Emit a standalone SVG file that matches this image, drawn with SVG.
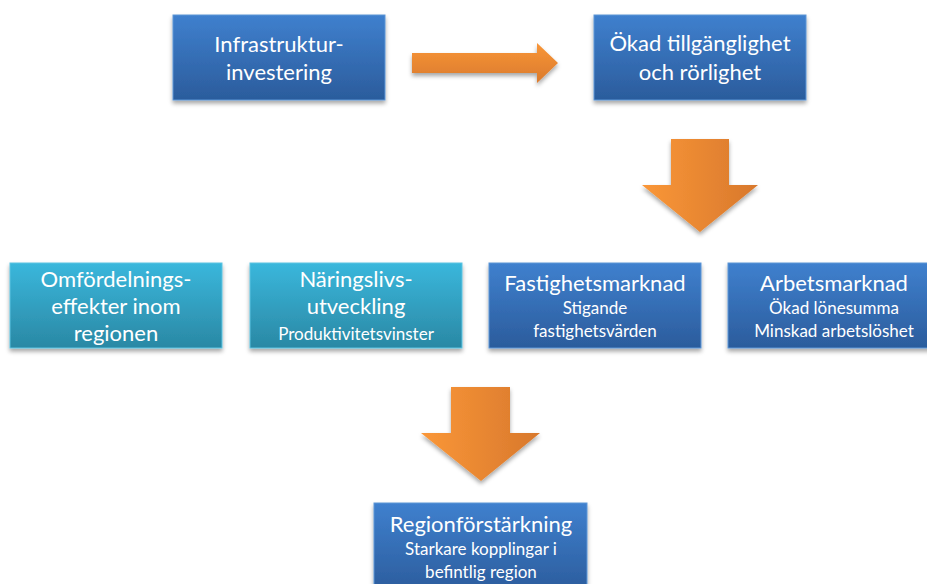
<svg xmlns="http://www.w3.org/2000/svg" width="927" height="584" viewBox="0 0 927 584">
<defs>
<linearGradient id="gBlue" x1="0" y1="0" x2="0" y2="1">
<stop offset="0" stop-color="#3F80CE"/>
<stop offset="1" stop-color="#2B5C9C"/>
</linearGradient>
<linearGradient id="gTeal" x1="0" y1="0" x2="0" y2="1">
<stop offset="0" stop-color="#3AB7DC"/>
<stop offset="1" stop-color="#2A88A4"/>
</linearGradient>
<linearGradient id="gOrangeH" x1="0" y1="0" x2="1" y2="0">
<stop offset="0" stop-color="#FA9738"/>
<stop offset="1" stop-color="#D8782C"/>
</linearGradient>
<linearGradient id="gOrangeV" x1="0" y1="0" x2="0" y2="1">
<stop offset="0" stop-color="#F99638"/>
<stop offset="1" stop-color="#DA7A2C"/>
</linearGradient>
<filter id="sh" x="-10%" y="-10%" width="120%" height="130%">
<feDropShadow dx="0" dy="3" stdDeviation="2" flood-color="#000" flood-opacity="0.35"/>
</filter>
</defs>
<style>
.bx{stroke:#5C96D6;stroke-width:1;filter:url(#sh)}
.tl{stroke:#5CC4E2;stroke-width:1;filter:url(#sh)}
text{font-family:Lato,"Open Sans",sans-serif;fill:#FFFFFF;text-anchor:middle}
.t{font-size:22px}
.s{font-size:17px}
.ar{filter:url(#sh)}
</style>
<rect width="927" height="584" fill="#FFFFFF"/>
<g id="connectors">
<polygon class="ar" fill="url(#gOrangeV)" points="412,53 537,53 537,43 558,63 537,83 537,73 412,73"/>
<polygon class="ar" fill="url(#gOrangeH)" points="671,139 729,139 729,185 758,185 700,232 642,185 671,185"/>
<polygon class="ar" fill="url(#gOrangeH)" points="451,387 510,387 510,433 540,433 481,481 421,433 451,433"/>
</g>
<g id="node-infrastruktur">
<rect class="bx" x="173" y="15" width="212" height="85" fill="url(#gBlue)"/>
<text class="t" x="279" y="52">Infrastruktur-</text>
<text class="t" x="279" y="80">investering</text>
</g>
<g id="node-tillganglighet">
<rect class="bx" x="594" y="15" width="212" height="85" fill="url(#gBlue)"/>
<text class="t" x="700" y="51">Ökad tillgänglighet</text>
<text class="t" x="700" y="80">och rörlighet</text>
</g>
<g id="node-omfordelning">
<rect class="tl" x="10" y="263" width="212" height="85" fill="url(#gTeal)"/>
<text class="t" x="116" y="287">Omfördelnings-</text>
<text class="t" x="116" y="314">effekter inom</text>
<text class="t" x="116" y="341">regionen</text>
</g>
<g id="node-naringsliv">
<rect class="tl" x="250" y="263" width="212" height="85" fill="url(#gTeal)"/>
<text class="t" x="356" y="287">Näringslivs-</text>
<text class="t" x="356" y="314">utveckling</text>
<text class="s" x="356" y="340">Produktivitetsvinster</text>
</g>
<g id="node-fastighet">
<rect class="bx" x="489" y="263" width="212" height="85" fill="url(#gBlue)"/>
<text class="t" x="595" y="291">Fastighetsmarknad</text>
<text class="s" x="595" y="314">Stigande</text>
<text class="s" x="595" y="337">fastighetsvärden</text>
</g>
<g id="node-arbetsmarknad">
<rect class="bx" x="728" y="263" width="212" height="85" fill="url(#gBlue)"/>
<text class="t" x="834" y="291">Arbetsmarknad</text>
<text class="s" x="834" y="314">Ökad lönesumma</text>
<text class="s" x="834" y="337">Minskad arbetslöshet</text>
</g>
<g id="node-regionforstarkning">
<rect class="bx" x="374" y="503" width="213" height="90" fill="url(#gBlue)"/>
<text class="t" x="481" y="532">Regionförstärkning</text>
<text class="s" x="481" y="555">Starkare kopplingar i</text>
<text class="s" x="481" y="578">befintlig region</text>
</g>
</svg>
